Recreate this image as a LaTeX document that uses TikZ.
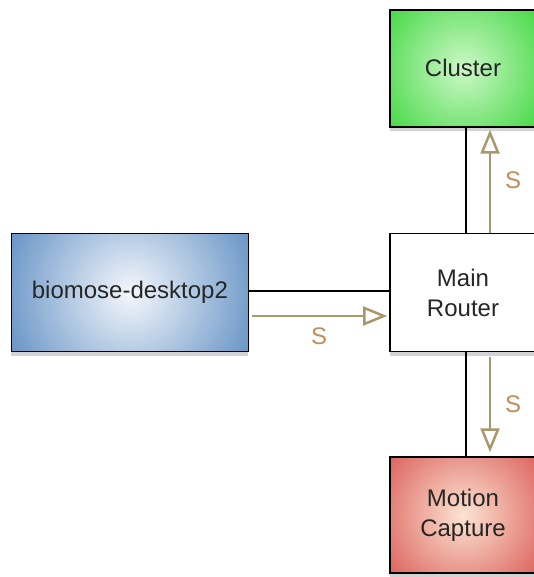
\documentclass[tikz,border=0pt]{standalone}
\usepackage{xcolor}
\usepackage{fontspec}
\setmainfont{Liberation Sans}
\usepackage{tikz}
\usetikzlibrary{positioning}
\usetikzlibrary{arrows.meta,shadows}
\definecolor{linktan}{RGB}{168,152,108}
\definecolor{labeltan}{RGB}{190,142,90}
\definecolor{clusterin}{RGB}{205,248,200}
\definecolor{clusterout}{RGB}{36,208,36}
\definecolor{deskin}{RGB}{244,247,252}
\definecolor{deskout}{RGB}{52,112,178}
\definecolor{mocapin}{RGB}{252,228,210}
\definecolor{mocapout}{RGB}{210,56,56}
\tikzset{edge/.style = {-{Triangle[open,length=24pt,width=19pt]}, color=linktan, line width=2.5pt}}

\begin{document}
\begin{tikzpicture}[x=1pt,y=-1pt,main node/.style={rectangle,draw=black,line width=1.6pt,inner sep=0pt,minimum width=146pt,minimum height=118pt,align=center,text=black!85,font=\fontsize{24}{30}\selectfont,drop shadow={shadow xshift=0pt,shadow yshift=-4pt,opacity=0.35}},glow/.style n args={3}{fill=#2,path picture={\shade[inner color=#1,outer color=#2] (path picture bounding box.center) circle (#3);}},link/.style={draw=black,line width=1.4pt},lbl/.style={text=labeltan,font=\fontsize{24}{30}\selectfont}]
                    \useasboundingbox (0,0) rectangle (533,577);
                    \node[main node,fill=white] (router) at (463,292.5) {Main\\Router};
                    \node[main node,minimum height=117pt,glow={clusterin}{clusterout}{120pt}] (cluster) [above=105pt of router] {Cluster};
                    \node[main node,minimum width=237pt,glow={deskin}{deskout}{182pt}] (desk) [left=140pt of router] {biomose-desktop2};
                    \node[main node,minimum height=116pt,glow={mocapin}{mocapout}{126pt}] (mocap) [below=104pt of router] {Motion\\Capture};

                    \path[link] ([yshift=1.5pt]desk.east) edge ([yshift=1.5pt]router.west);
                    \path[link] ([xshift=3pt]router.north) edge ([xshift=3pt]cluster.south);
                    \path[link] ([xshift=3pt]router.south) edge ([xshift=3pt]mocap.north);

                    \path[edge] ([yshift=-23.5pt]desk.east) edge[shorten <=3pt,shorten >=2pt] node[lbl,below=7pt] {S} ([yshift=-23.5pt]router.west);
                    \path[edge] ([xshift=27pt]router.north) edge[shorten >=2pt] node[lbl,right=10.5pt] {S} ([xshift=27pt]cluster.south);
                    \path[edge] ([xshift=27pt]router.south) edge[shorten <=5pt,shorten >=4pt] node[lbl,right=10.5pt] {S} ([xshift=27pt]mocap.north);
                \end{tikzpicture}
\end{document}
